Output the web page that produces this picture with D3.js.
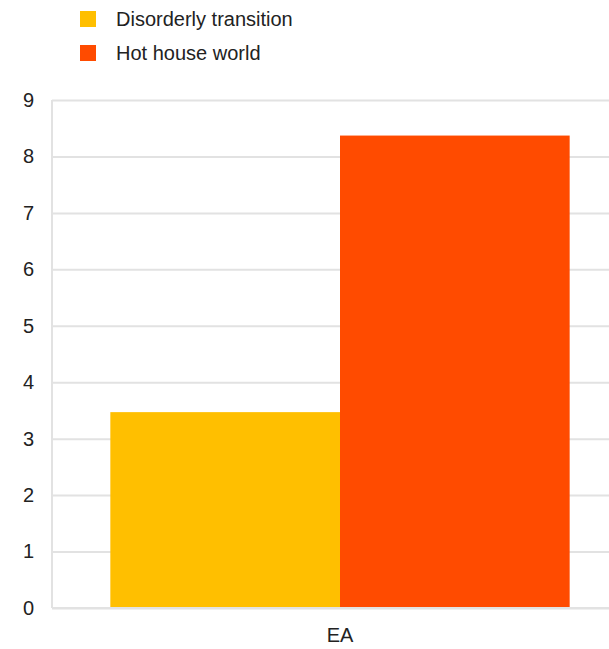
<!DOCTYPE html>
<html>
<head>
<meta charset="utf-8">
<script src="https://cdn.jsdelivr.net/npm/d3@7"></script>
<style>
  html, body { margin: 0; padding: 0; background: #fff; overflow: hidden; }
  svg text { font-family: "Liberation Sans", Arial, sans-serif; fill: #222; }
</style>
</head>
<body>
<svg id="chart" width="609" height="649"></svg>
<script>
// Data
const categories = ["EA"];
const seriesNames = ["Disorderly transition", "Hot house world"];
const seriesColors = ["#FFBF00", "#FF4B00"];
const disorderlyTransition = [3.47];
const hotHouseWorld = [8.37];
const yTicks = [0, 1, 2, 3, 4, 5, 6, 7, 8, 9];

const seriesValues = [disorderlyTransition, hotHouseWorld];

const svg = d3.select("#chart");
const margin = { left: 52, top: 100, bottom: 608, right: 628 };

const y = d3.scaleLinear().domain([0, 9]).range([margin.bottom, margin.top]);
const x0 = d3.scaleBand().domain(categories).range([margin.left, margin.right])
  .paddingInner(0).paddingOuter(0.127);
const x1 = d3.scaleBand().domain(seriesNames).range([0, x0.bandwidth()]).padding(0);

// Gridlines
const yAxis = d3.axisLeft(y).tickValues(yTicks).tickSize(-(margin.right - margin.left)).tickPadding(18);
const gy = svg.append("g").attr("transform", `translate(${margin.left},0)`).call(yAxis);
gy.select(".domain").remove();
gy.selectAll(".tick line").attr("stroke", "#e2e2e2").attr("stroke-width", 2);
gy.selectAll(".tick text").attr("font-size", 20).attr("fill", "#222").attr("dx", 0)
  .style("font-family", "'Liberation Sans', Arial, sans-serif");

// Left axis line
svg.append("line")
  .attr("x1", margin.left).attr("x2", margin.left)
  .attr("y1", y(9)).attr("y2", y(0))
  .attr("stroke", "#e2e2e2").attr("stroke-width", 2);

// Bars
const groups = svg.append("g").selectAll("g").data(categories).join("g")
  .attr("transform", d => `translate(${x0(d)},0)`);
seriesNames.forEach((name, si) => {
  groups.append("rect")
    .attr("x", x1(name))
    .attr("width", x1.bandwidth())
    .attr("y", (d, i) => y(seriesValues[si][i]))
    .attr("height", (d, i) => y(0) - y(seriesValues[si][i]))
    .attr("fill", seriesColors[si]);
});

// Baseline
svg.append("line")
  .attr("x1", margin.left).attr("x2", margin.right)
  .attr("y1", y(0)).attr("y2", y(0))
  .attr("stroke", "#e2e2e2").attr("stroke-width", 2);

// Category labels
svg.append("g").selectAll("text").data(categories).join("text")
  .attr("x", d => x0(d) + x0.bandwidth() / 2)
  .attr("y", 642)
  .attr("text-anchor", "middle")
  .attr("font-size", 20)
  .text(d => d);

// Legend
const legend = svg.append("g").attr("transform", "translate(80,11)");
seriesNames.forEach((name, i) => {
  const g = legend.append("g").attr("transform", `translate(0,${i * 34})`);
  g.append("rect").attr("width", 16).attr("height", 16).attr("fill", seriesColors[i]);
  g.append("text").attr("x", 36).attr("y", 15).attr("font-size", 20).text(name);
});
</script>
</body>
</html>
